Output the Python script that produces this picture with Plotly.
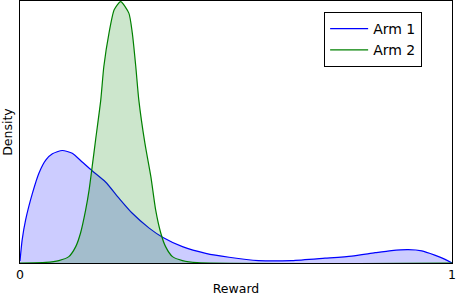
import plotly.graph_objects as go

# Arm 1 (blue) density
arm1_x = [0.0, 0.005, 0.013, 0.029, 0.044, 0.06, 0.075, 0.098, 0.121, 0.144, 0.167, 0.198,
          0.229, 0.26, 0.299, 0.33, 0.376, 0.43, 0.484, 0.552, 0.629, 0.706, 0.768, 0.822,
          0.86, 0.899, 0.93, 0.96, 0.984, 1.0]
arm1_y = [0.07, 0.76, 1.42, 2.31, 2.97, 3.40, 3.60, 3.71, 3.62, 3.33, 3.04, 2.67,
          2.14, 1.64, 1.15, 0.85, 0.54, 0.32, 0.19, 0.08, 0.08, 0.16, 0.23, 0.34,
          0.41, 0.44, 0.40, 0.26, 0.12, 0.0]

# Arm 2 (green) density
arm2_x = [0.0, 0.06, 0.09, 0.113, 0.129, 0.14, 0.152, 0.16, 0.167, 0.175, 0.187, 0.194,
          0.206, 0.218, 0.233, 0.252, 0.26, 0.268, 0.275, 0.289, 0.303, 0.314, 0.326,
          0.337, 0.353, 0.376, 0.41, 1.0]
arm2_y = [0.0, 0.02, 0.08, 0.21, 0.54, 0.98, 1.75, 2.41, 3.17, 4.06, 5.38, 6.47,
          7.58, 8.35, 8.62, 8.24, 7.58, 6.48, 5.38, 3.96, 2.84, 1.75, 0.98,
          0.54, 0.21, 0.08, 0.01, 0.0]

series_names = ["Arm 1", "Arm 2"]
series_colors = ["#0000ff", "#008000"]
fill_colors = ["rgba(0,0,255,0.2)", "rgba(0,128,0,0.2)"]
x_ticks = [0, 1]
x_tick_labels = ["0", "1"]

FONT = "DejaVu Sans"

fig = go.Figure()
for xs, ys, name, col, fc in zip([arm1_x, arm2_x], [arm1_y, arm2_y],
                                 series_names, series_colors, fill_colors):
    fig.add_trace(go.Scatter(
        x=xs, y=ys, name=name, mode="lines", showlegend=False,
        line=dict(color=col, width=1.2, shape="spline", smoothing=0.6),
        fill="tozeroy", fillcolor=fc,
    ))
# legend entries drawn as plain lines (like the reference)
for name, col in zip(series_names, series_colors):
    fig.add_trace(go.Scatter(
        x=[None], y=[None], name=name, mode="lines",
        line=dict(color=col, width=1.2),
    ))

fig.update_layout(
    width=456, height=296,
    margin=dict(l=20, r=4, t=1, b=33),
    paper_bgcolor="white", plot_bgcolor="white",
    font=dict(family=FONT, size=12.5, color="black"),
    showlegend=True,
    legend=dict(
        x=0.704, y=0.958, xanchor="left", yanchor="top",
        bgcolor="white", bordercolor="black", borderwidth=1,
        itemwidth=38,
        font=dict(family=FONT, size=14, color="black"),
    ),
    xaxis=dict(
        range=[0, 1], tickvals=x_ticks, ticktext=x_tick_labels,
        showline=True, linecolor="black", linewidth=1, mirror=True,
        showgrid=False, zeroline=False, ticks="", automargin=False,
        ticklabeloverflow="allow",
        title=dict(text="Reward", font=dict(size=12.5), standoff=8),
        tickfont=dict(size=12.5),
    ),
    yaxis=dict(
        range=[0, 8.64], showticklabels=False, automargin=False,
        showline=True, linecolor="black", linewidth=1, mirror=True,
        showgrid=False, zeroline=False, ticks="",
        title=dict(text="Density", font=dict(size=12.5), standoff=4),
    ),
)

fig.write_html("out.html", config={"displayModeBar": False},
               post_script="document.body.style.margin='0';")
